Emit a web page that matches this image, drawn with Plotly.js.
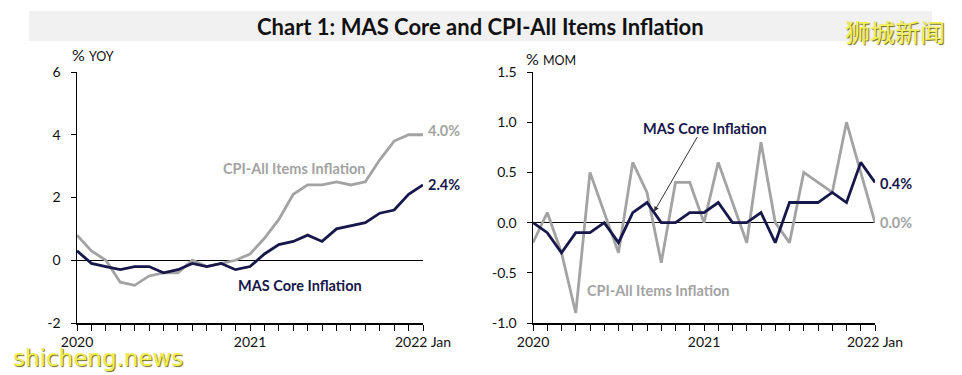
<!DOCTYPE html>
<html>
<head>
<meta charset="utf-8">
<script src="https://cdn.plot.ly/plotly-3.0.1.min.js"></script>
<style>
html,body{margin:0;padding:0;background:#fff;}
#chart{width:962px;height:375px;}
</style>
</head>
<body>
<div id="chart"></div>
<script>
// Months Jan 2020 .. Jan 2022 (index 0..24)
var months = ['Jan 2020','Feb 2020','Mar 2020','Apr 2020','May 2020','Jun 2020','Jul 2020','Aug 2020','Sep 2020','Oct 2020','Nov 2020','Dec 2020',
              'Jan 2021','Feb 2021','Mar 2021','Apr 2021','May 2021','Jun 2021','Jul 2021','Aug 2021','Sep 2021','Oct 2021','Nov 2021','Dec 2021','Jan 2022'];
var monthIdx = months.map(function(m, i){ return i; });

// Year-on-year (% YOY)
var cpiYoy  = [0.8, 0.3, 0.0, -0.7, -0.8, -0.5, -0.4, -0.4, 0.0, -0.2, -0.1, 0.0,
               0.2, 0.7, 1.3, 2.1, 2.4, 2.4, 2.5, 2.4, 2.5, 3.2, 3.8, 4.0, 4.0];
var coreYoy = [0.3, -0.1, -0.2, -0.3, -0.2, -0.2, -0.4, -0.3, -0.1, -0.2, -0.1, -0.3,
               -0.2, 0.2, 0.5, 0.6, 0.8, 0.6, 1.0, 1.1, 1.2, 1.5, 1.6, 2.1, 2.4];

// Month-on-month (% MOM)
var cpiMom  = [-0.2, 0.1, -0.3, -0.9, 0.5, 0.1, -0.3, 0.6, 0.3, -0.4, 0.4, 0.4,
               0.0, 0.6, 0.2, -0.2, 0.8, 0.0, -0.2, 0.5, 0.4, 0.3, 1.0, 0.5, 0.0];
var coreMom = [0.0, -0.1, -0.3, -0.1, -0.1, 0.0, -0.2, 0.1, 0.2, 0.0, 0.0, 0.1,
               0.1, 0.2, 0.0, 0.0, 0.1, -0.2, 0.2, 0.2, 0.2, 0.3, 0.2, 0.6, 0.4];

// Tick labels
var xTickText = monthIdx.map(function(i){ return i===0 ? '2020' : (i===12 ? '2021' : (i===24 ? '2022 Jan' : '')); });
var yoyTickVals = [-2, 0, 2, 4, 6];
var yoyTickText = ['-2', '0', '2', '4', '6'];
var momTickVals = [-1.0, -0.5, 0.0, 0.5, 1.0, 1.5];
var momTickText = ['-1.0', '-0.5', '0.0', '0.5', '1.0', '1.5'];

var GRAY = '#a3a3a3';
var NAVY = '#17174b';
var FONT = 'Lato, "Open Sans", sans-serif';
var LBL = 14.5;

var traces = [
  {x: monthIdx, y: cpiYoy, xaxis:'x', yaxis:'y', mode:'lines', line:{color:GRAY, width:2.8}, cliponaxis:false, hoverinfo:'skip'},
  {x: monthIdx, y: coreYoy, xaxis:'x', yaxis:'y', mode:'lines', line:{color:NAVY, width:2.8}, cliponaxis:false, hoverinfo:'skip'},
  {x: monthIdx, y: cpiMom, xaxis:'x2', yaxis:'y2', mode:'lines', line:{color:GRAY, width:2.8}, cliponaxis:false, hoverinfo:'skip'},
  {x: monthIdx, y: coreMom, xaxis:'x2', yaxis:'y2', mode:'lines', line:{color:NAVY, width:2.8}, cliponaxis:false, hoverinfo:'skip'}
];

function xAxis(domain, anchor){
  return {
    domain: domain, anchor: anchor, range: [0, 24],
    tickvals: monthIdx, ticktext: xTickText,
    ticks: 'outside', ticklen: 6, tickwidth: 1, tickcolor: '#000',
    showline: true, linecolor: '#000', linewidth: 1.5,
    showgrid: false, zeroline: false, fixedrange: true,
    tickfont: {family: FONT, size: 14, color: '#111'}
  };
}
function yAxis(range, vals, text, anchor){
  return {
    domain: [0, 1], anchor: anchor, range: range,
    tickvals: vals, ticktext: text,
    ticks: 'outside', ticklen: 5, tickwidth: 1, tickcolor: '#000',
    ticklabelstandoff: 7,
    showline: true, linecolor: '#000', linewidth: 1.5,
    showgrid: false, zeroline: true, zerolinecolor: '#000', zerolinewidth: 1,
    fixedrange: true,
    tickfont: {family: FONT, size: 14, color: '#111'}
  };
}

var W = 962;
var layout = {
  width: 962, height: 375,
  margin: {l: 0, r: 0, t: 72, b: 52},
  paper_bgcolor: '#fff', plot_bgcolor: 'rgba(0,0,0,0)',
  showlegend: false,
  xaxis: xAxis([77/W, 423/W], 'y'),
  yaxis: yAxis([-2, 6], yoyTickVals, yoyTickText, 'x'),
  xaxis2: xAxis([533/W, 875/W], 'y2'),
  yaxis2: yAxis([-1, 1.5], momTickVals, momTickText, 'x2'),
  shapes: [
    {type:'rect', xref:'paper', yref:'paper', x0: 29/W, x1: 932/W, y0: (323-41)/251, y1: (323-11)/251,
     fillcolor:'#f1f1f1', line:{width:0}, layer:'below'}
  ],
  annotations: [
    {xref:'paper', yref:'paper', x: 480/W, y: (323-27)/251, text:'<b>Chart 1: MAS Core and CPI-All Items Inflation</b>',
     showarrow:false, xanchor:'center', yanchor:'middle', font:{family:FONT, size:22, color:'#111'}},
    // axis unit labels
    {xref:'paper', yref:'paper', x: 70/W, y: (323-54)/251, text:'% <span style="font-size:12.5px">YOY</span>',
     showarrow:false, xanchor:'left', yanchor:'middle', font:{family:FONT, size:16, color:'#111'}},
    {xref:'paper', yref:'paper', x: 524/W, y: (323-58)/251, text:'% <span style="font-size:12.5px">MOM</span>',
     showarrow:false, xanchor:'left', yanchor:'middle', font:{family:FONT, size:16, color:'#111'}},
    // left chart labels
    {xref:'x', yref:'y', x: 15.1, y: 2.93, text:'<b>CPI-All Items Inflation</b>', showarrow:false,
     font:{family:FONT, size:LBL, color:GRAY}},
    {xref:'x', yref:'y', x: 15.5, y: -0.8, text:'<b>MAS Core Inflation</b>', showarrow:false,
     font:{family:FONT, size:LBL, color:NAVY}},
    {xref:'x', yref:'y', x: 24, y: 4.15, text:'<b>4.0%</b>', showarrow:false, xanchor:'left', xshift:3,
     font:{family:FONT, size:LBL, color:GRAY}},
    {xref:'x', yref:'y', x: 24, y: 2.42, text:'<b>2.4%</b>', showarrow:false, xanchor:'left', xshift:3,
     font:{family:FONT, size:LBL, color:NAVY}},
    // right chart labels
    {xref:'x2', yref:'y2', x: 12.07, y: 0.94, text:'<b>MAS Core Inflation</b>', showarrow:false,
     font:{family:FONT, size:LBL, color:NAVY}},
    {xref:'x2', yref:'y2', x: 8.5, y: 0.11, ax: 44, ay: -76, text:'', showarrow:true,
     arrowhead:2, arrowsize:1, arrowwidth:1, arrowcolor:'#333', standoff:0, startstandoff:0},
    {xref:'x2', yref:'y2', x: 8.84, y: -0.68, text:'<b>CPI-All Items Inflation</b>', showarrow:false,
     font:{family:FONT, size:LBL, color:GRAY}},
    {xref:'x2', yref:'y2', x: 24, y: 0.39, text:'<b>0.4%</b>', showarrow:false, xanchor:'left', xshift:3,
     font:{family:FONT, size:LBL, color:NAVY}},
    {xref:'x2', yref:'y2', x: 24, y: 0.0, text:'<b>0.0%</b>', showarrow:false, xanchor:'left', xshift:3,
     font:{family:FONT, size:LBL, color:GRAY}},
    // watermarks
    {xref:'paper', yref:'paper', x: 947/W, y: (323-31)/251, text:'狮城新闻', showarrow:false, xanchor:'right', yanchor:'middle',
     font:{family:'"Noto Sans CJK SC", sans-serif', size:25, color:'#f2f05a', shadow:'1px 1px 1px #6b6b20'}},
    {xref:'paper', yref:'paper', x: 11/W, y: (323-358)/251, text:'shicheng.news', showarrow:false, xanchor:'left', yanchor:'middle',
     font:{family:'"DejaVu Sans", sans-serif', size:23, color:'#f0ee50', shadow:'1px 1px 1px #6b6b20'}}
  ]
};

Plotly.newPlot('chart', traces, layout, {staticPlot: true, displayModeBar: false});
</script>
</body>
</html>
